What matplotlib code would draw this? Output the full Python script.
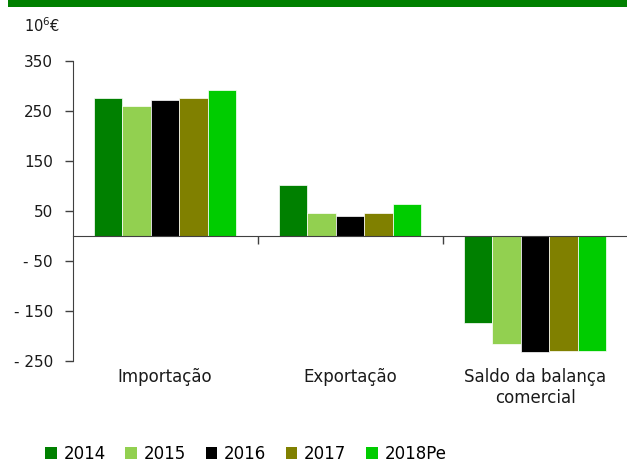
import matplotlib
matplotlib.use("Agg")
import matplotlib.pyplot as plt
import numpy as np
from matplotlib.patches import Rectangle

categories = ["Importação", "Exportação", "Saldo da balança\ncomercial"]
series = ["2014", "2015", "2016", "2017", "2018Pe"]
values = {
    "2014":   [277, 103, -174],
    "2015":   [261, 46, -215],
    "2016":   [273, 41, -232],
    "2017":   [277, 47, -230],
    "2018Pe": [293, 64, -229],
}
colors = ["#008000", "#92D050", "#000000", "#808000", "#00CC00"]
yticks = [350, 250, 150, 50, -50, -150, -250]
yticklabels = ["350", "250", "150", "50", "- 50", "- 150", "- 250"]
unit_label = "10$^6$€"

fig = plt.figure(figsize=(6.27, 4.63), dpi=100)
fig.patches.append(Rectangle((8/627, 1 - 7/463), 1, 7/463, transform=fig.transFigure,
                             facecolor="#008000", edgecolor="none"))
ax = fig.add_axes([72.5/627, 1 - 361/463, 555/627, 300/463])

x = np.arange(len(categories))
group_w = 0.77
bw = group_w / len(series)
for i, (s, c) in enumerate(zip(series, colors)):
    ax.bar(x - group_w / 2 + bw * (i + 0.5), values[s], width=bw, color=c,
           edgecolor="white", linewidth=0.5, label=s, zorder=2)

ax.set_xlim(-0.5, len(categories) - 0.5)
ax.set_ylim(-250, 350)
ax.set_yticks(yticks)
ax.set_yticklabels(yticklabels, fontsize=11, color="#1a1a1a")
ax.tick_params(axis="y", direction="out", length=6, width=1, color="#404040", pad=8)

ax.spines["top"].set_visible(False)
ax.spines["right"].set_visible(False)
ax.spines["left"].set_color("#404040")
ax.spines["bottom"].set_position(("data", 0))
ax.spines["bottom"].set_color("#404040")
ax.set_xticks([0.5, 1.5])
ax.set_xticklabels([])
ax.tick_params(axis="x", direction="out", length=6, width=1, color="#404040")

for xi, cat in zip(x, categories):
    ax.text(xi, -265, cat, ha="center", va="top", fontsize=12, color="#1a1a1a",
            linespacing=1.15)

fig.text(24/627, 1 - 26/463, unit_label, fontsize=10.5, ha="left", va="center", color="#1a1a1a")

handles, labels = ax.get_legend_handles_labels()
leg = fig.legend(handles, labels, loc="center left", bbox_to_anchor=(45/627, 1 - 454/463),
                 ncol=5, frameon=False, fontsize=12, handlelength=0.7, handleheight=0.7,
                 handletextpad=0.4, columnspacing=1.18, borderpad=0, borderaxespad=0)
for h in leg.legend_handles:
    h.set_edgecolor("none")

fig.savefig("out.png", dpi=100)
